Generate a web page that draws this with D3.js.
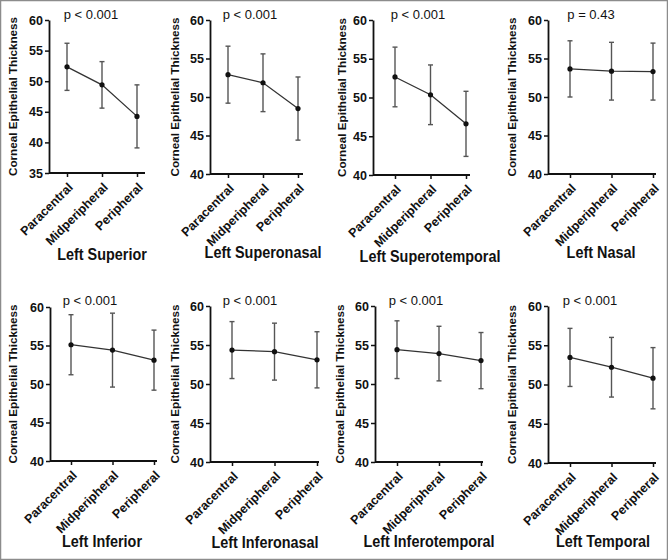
<!DOCTYPE html>
<html>
<head>
<meta charset="utf-8">
<script src="https://cdn.jsdelivr.net/npm/d3@7/dist/d3.min.js"></script>
<style>
  html, body { margin: 0; padding: 0; background: #fff; }
  svg { display: block; }
  text { font-family: "Liberation Sans", Arial, sans-serif; }
</style>
</head>
<body>
<svg id="chart" width="668" height="560"></svg>
<script>
// ---------------- data ----------------
const categories = ["Paracentral", "Midperipheral", "Peripheral"];
const panelTitles = ["Left Superior", "Left Superonasal", "Left Superotemporal", "Left Nasal",
                     "Left Inferior", "Left Inferonasal", "Left Inferotemporal", "Left Temporal"];
const pValues = ["p < 0.001", "p < 0.001", "p < 0.001", "p = 0.43",
                 "p < 0.001", "p < 0.001", "p < 0.001", "p < 0.001"];
const meanValues = [
  [52.35, 49.4, 44.25],
  [52.9, 51.85, 48.5],
  [52.65, 50.35, 46.6],
  [53.65, 53.35, 53.3],
  [55.1, 54.4, 53.1],
  [54.35, 54.15, 53.1],
  [54.4, 53.9, 53.0],
  [53.45, 52.2, 50.8]
];
const sdValues = [
  [3.85, 3.8, 5.15],
  [3.7, 3.75, 4.1],
  [3.85, 3.85, 4.2],
  [3.65, 3.75, 3.7],
  [3.9, 4.8, 3.9],
  [3.65, 3.65, 3.6],
  [3.7, 3.5, 3.6],
  [3.7, 3.8, 3.9]
];
const yDomains = [[35, 60], [40, 60], [40, 60], [40, 60], [40, 60], [40, 60], [40, 60], [40, 60]];
const yTickValues = [[35, 40, 45, 50, 55, 60], [40, 45, 50, 55, 60], [40, 45, 50, 55, 60], [40, 45, 50, 55, 60],
                     [40, 45, 50, 55, 60], [40, 45, 50, 55, 60], [40, 45, 50, 55, 60], [40, 45, 50, 55, 60]];
const yAxisTitle = "Corneal Epithelial Thickness";

// ---------------- layout ----------------
const layout = [
  {ax: 49,  x0: 67,  x1: 137, xEnd: 145, top: 20,  bottom: 173, yt: 13,  pX: 91,  pY: 19,  tX: 102, tY: 260},
  {ax: 210, x0: 228, x1: 298, xEnd: 303, top: 20,  bottom: 174, yt: 175, pX: 250, pY: 19,  tX: 263, tY: 258},
  {ax: 373, x0: 395, x1: 466, xEnd: 470, top: 20,  bottom: 175, yt: 342, pX: 418, pY: 19,  tX: 430, tY: 262},
  {ax: 548, x0: 570, x1: 653, xEnd: 656, top: 20,  bottom: 174, yt: 512, pX: 591, pY: 19,  tX: 601, tY: 258},
  {ax: 50,  x0: 71,  x1: 154, xEnd: 157, top: 307, bottom: 461, yt: 13,  pX: 90,  pY: 305, tX: 102, tY: 547},
  {ax: 210, x0: 232, x1: 317, xEnd: 319, top: 306, bottom: 462, yt: 175, pX: 250, pY: 305, tX: 265, tY: 548},
  {ax: 375, x0: 397, x1: 481, xEnd: 483, top: 306, bottom: 462, yt: 340, pX: 416, pY: 305, tX: 429, tY: 547},
  {ax: 548, x0: 570, x1: 653, xEnd: 656, top: 306, bottom: 463, yt: 512, pX: 590, pY: 305, tX: 603, tY: 547}
];

const svg = d3.select("#chart");
svg.append("rect").attr("x", 0.5).attr("y", 0.5).attr("width", 667).attr("height", 559)
  .attr("fill", "#fff").attr("stroke", "#8c8c8c").attr("stroke-width", 1.5);

panelTitles.forEach((title, i) => {
  const L = layout[i];
  const g = svg.append("g");
  const y = d3.scaleLinear().domain(yDomains[i]).range([L.bottom, L.top]);
  const x = d3.scalePoint().domain(categories).range([L.x0, L.x1]);

  // y axis
  const yAx = g.append("g").attr("transform", `translate(${L.ax},0)`)
    .call(d3.axisLeft(y).tickValues(yTickValues[i]).tickSize(4).tickSizeOuter(0).tickPadding(2));
  yAx.select(".domain").attr("stroke", "#111").attr("stroke-width", 1.8);
  yAx.selectAll(".tick line").attr("stroke", "#111").attr("stroke-width", 1.5);
  yAx.selectAll(".tick text").attr("font-size", 12.5).attr("font-weight", "bold")
    .attr("fill", "#111").style("font-family", "'Liberation Sans', Arial, sans-serif");

  // x axis line + ticks
  const xAx = g.append("g").attr("transform", `translate(0,${L.bottom})`)
    .call(d3.axisBottom(x).tickSize(4).tickSizeOuter(0));
  xAx.select(".domain").attr("d", `M${L.ax},0H${L.xEnd}`).attr("stroke", "#111").attr("stroke-width", 1.8);
  xAx.selectAll(".tick line").attr("stroke", "#111").attr("stroke-width", 1.5);
  xAx.selectAll(".tick text")
    .attr("font-size", 12.5).attr("font-weight", "bold").attr("fill", "#111")
    .style("font-family", "'Liberation Sans', Arial, sans-serif")
    .attr("text-anchor", "end")
    .attr("x", 0).attr("y", 0).attr("dy", "0.35em")
    .attr("transform", "translate(3,12) rotate(-45)");

  // y axis title
  g.append("text")
    .attr("transform", `translate(${L.yt + 4},${(L.top + L.bottom) / 2}) rotate(-90)`)
    .attr("text-anchor", "middle").attr("font-size", 11.7).attr("font-weight", "bold")
    .attr("fill", "#111").text(yAxisTitle);

  // p-value
  g.append("text").attr("x", L.pX).attr("y", L.pY).attr("text-anchor", "middle")
    .attr("font-size", 13).attr("fill", "#111").text(pValues[i]);

  // panel title
  g.append("text")
    .attr("transform", `translate(${L.tX},${L.tY}) scale(0.9,1)`)
    .attr("text-anchor", "middle")
    .attr("font-size", 16).attr("font-weight", "bold").attr("fill", "#111").text(title);

  const pts = categories.map((c, j) => ({c, m: meanValues[i][j], s: sdValues[i][j]}));

  // error bars
  const eb = g.append("g").attr("stroke", "#555").attr("stroke-width", 1.4).attr("fill", "none");
  pts.forEach(p => {
    const cx = x(p.c);
    eb.append("line").attr("x1", cx).attr("x2", cx).attr("y1", y(p.m - p.s)).attr("y2", y(p.m + p.s));
    eb.append("line").attr("x1", cx - 2.5).attr("x2", cx + 2.5).attr("y1", y(p.m + p.s)).attr("y2", y(p.m + p.s));
    eb.append("line").attr("x1", cx - 2.5).attr("x2", cx + 2.5).attr("y1", y(p.m - p.s)).attr("y2", y(p.m - p.s));
  });

  // connecting line
  g.append("path").datum(pts)
    .attr("d", d3.line().x(p => x(p.c)).y(p => y(p.m)))
    .attr("fill", "none").attr("stroke", "#333").attr("stroke-width", 1.3);

  // points
  g.selectAll("circle.pt").data(pts).enter().append("circle")
    .attr("cx", p => x(p.c)).attr("cy", p => y(p.m)).attr("r", 2.6).attr("fill", "#111");
});
</script>
</body>
</html>
